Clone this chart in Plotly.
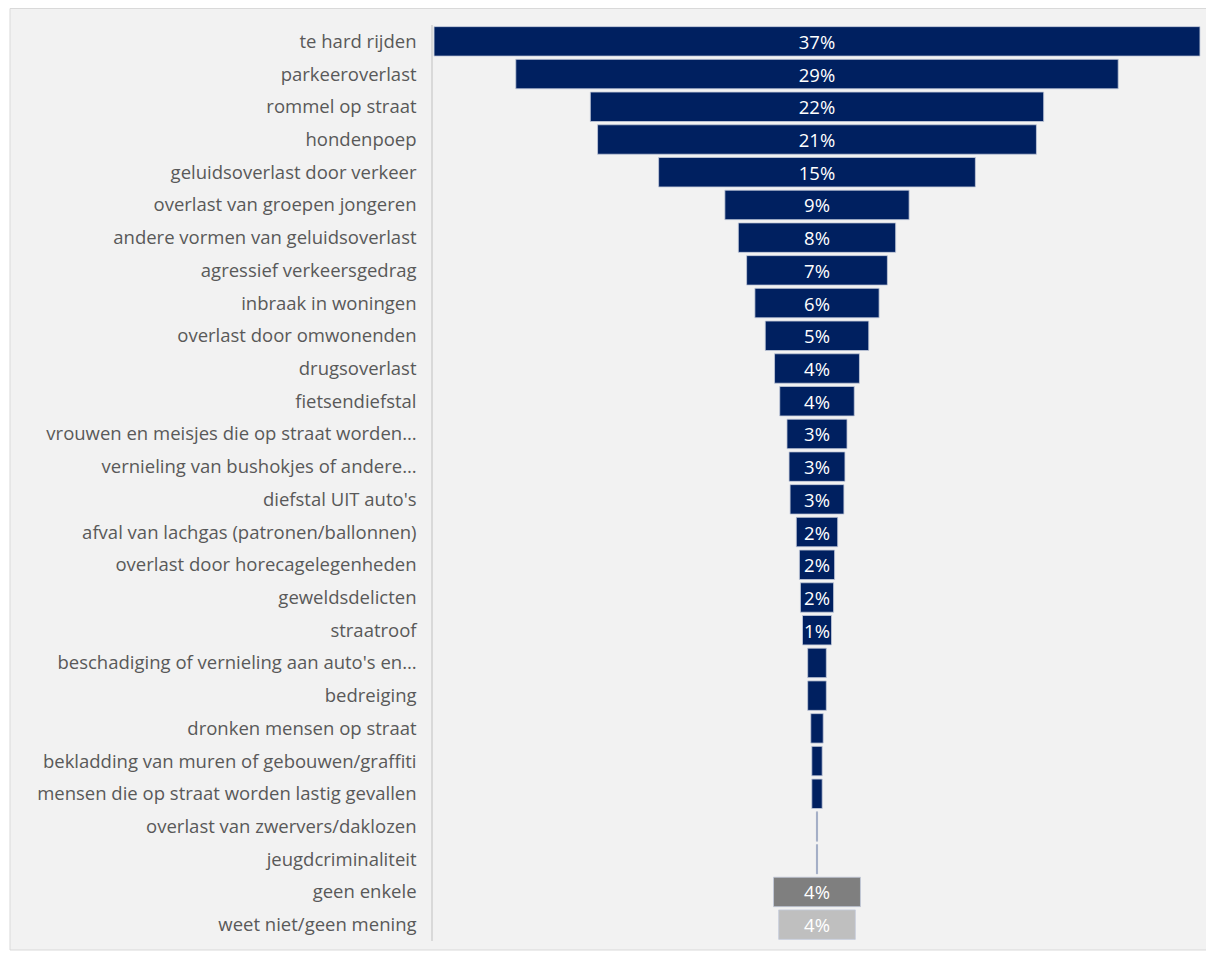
import plotly.graph_objects as go

categories = [
    "te hard rijden", "parkeeroverlast", "rommel op straat", "hondenpoep",
    "geluidsoverlast door verkeer", "overlast van groepen jongeren",
    "andere vormen van geluidsoverlast", "agressief verkeersgedrag",
    "inbraak in woningen", "overlast door omwonenden", "drugsoverlast",
    "fietsendiefstal", "vrouwen en meisjes die op straat worden…",
    "vernieling van bushokjes of andere…", "diefstal UIT auto's",
    "afval van lachgas (patronen/ballonnen)", "overlast door horecagelegenheden",
    "geweldsdelicten", "straatroof", "beschadiging of vernieling aan auto's en…",
    "bedreiging", "dronken mensen op straat",
    "bekladding van muren of gebouwen/graffiti",
    "mensen die op straat worden lastig gevallen",
    "overlast van zwervers/daklozen", "jeugdcriminaliteit", "geen enkele",
    "weet niet/geen mening",
]
values = [37.0, 29.1, 21.9, 21.2, 15.3, 8.9, 7.6, 6.8, 6.0, 5.0, 4.1, 3.6, 2.9,
          2.7, 2.6, 2.0, 1.7, 1.6, 1.4, 0.9, 0.9, 0.6, 0.5, 0.5, 0.06, 0.06,
          4.2, 3.7]
value_labels = ["37%", "29%", "22%", "21%", "15%", "9%", "8%", "7%", "6%", "5%",
                "4%", "4%", "3%", "3%", "3%", "2%", "2%", "2%", "1%", "", "", "",
                "", "", "", "", "4%", "4%"]
colors = ["#002060"] * 26 + ["#7f7f7f", "#bfbfbf"]

fig = go.Figure(go.Funnel(
    y=categories,
    x=values,
    text=value_labels,
    texttemplate="%{text}",
    textposition="inside",
    insidetextanchor="middle",
    textfont=dict(family="Open Sans", size=18.5, color="white"),
    marker=dict(color=colors, line=dict(color="#c3cadb", width=0.8)),
    connector=dict(visible=False),
    hoverinfo="skip",
))

# page body has an 8px margin, so figure coords = screen coords - 8
W, H = 1206, 945
ml, mr, mt, mb = 425, 13, 17, 12
pw, ph = W - ml - mr, H - mt - mb

fig.update_layout(
    width=W, height=H,
    margin=dict(l=ml, r=mr, t=mt, b=mb, pad=0),
    paper_bgcolor="white",
    plot_bgcolor="rgba(0,0,0,0)",
    funnelgap=0.1,
    showlegend=False,
    uniformtext=dict(minsize=18, mode="show"),
    xaxis=dict(range=[-18.55, 18.55], visible=False, fixedrange=True),
    yaxis=dict(
        autorange="reversed",
        showline=True, linecolor="#d9d9d9", linewidth=1.5,
        showgrid=False, ticks="",
        tickfont=dict(family="Open Sans", size=18.5, color="#595959"),
        ticklabelstandoff=11,
    ),
    shapes=[dict(
        type="rect", xref="paper", yref="paper", layer="below",
        x0=(2 - ml) / pw, x1=(1204 - ml) / pw,
        y0=((H - mb) - 942) / ph, y1=((H - mb) - 0.5) / ph,
        fillcolor="#f2f2f2", line=dict(color="#d9d9d9", width=1),
    )],
)

fig.write_html("out.html")
